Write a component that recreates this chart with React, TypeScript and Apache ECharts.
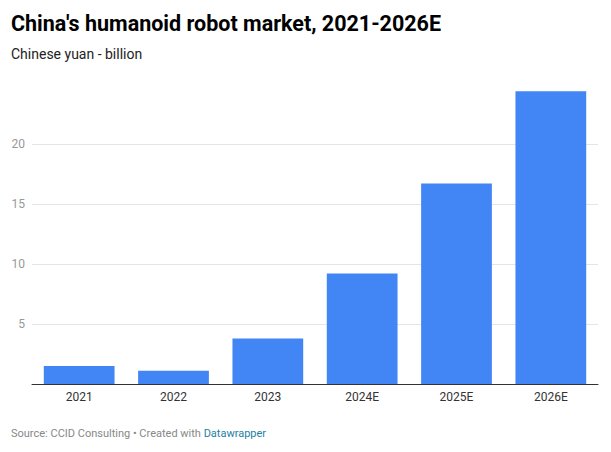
import * as echarts from "echarts"
import { useEffect, useRef } from "react"

// China's humanoid robot market, CNY billion (E = estimate)
const years = ["2021", "2022", "2023", "2024E", "2025E", "2026E"]
const marketSize = [1.5, 1.1, 3.8, 9.2, 16.7, 24.4]
const yTicks = [5, 10, 15, 20]

const FONT = "Roboto, 'Noto Sans', sans-serif"

export default function App() {
  const ref = useRef<HTMLDivElement>(null)

  useEffect(() => {
    if (!ref.current) return
    const chart = echarts.init(ref.current, undefined, { renderer: "svg" })

    chart.setOption({
      animation: false,
      textStyle: { fontFamily: FONT },
      title: [
        {
          text: "China's humanoid robot market, 2021-2026E",
          left: 11,
          top: 12,
          padding: 0,
          textStyle: { fontFamily: FONT, fontSize: 21.5, fontWeight: 700, color: "#000" },
        },
        {
          text: "Chinese yuan - billion",
          left: 11,
          top: 47,
          padding: 0,
          textStyle: { fontFamily: FONT, fontSize: 14, fontWeight: 400, color: "#222" },
        },
        {
          text: "{a|Source: CCID Consulting • Created with }{b|Datawrapper}",
          left: 11,
          top: 428,
          padding: 0,
          textStyle: {
            fontWeight: 400,
            rich: {
              a: { fontFamily: FONT, fontSize: 11, fontWeight: 400, color: "#888" },
              b: { fontFamily: FONT, fontSize: 11, fontWeight: 400, color: "#1d81a2" },
            },
          },
        },
      ],
      grid: { left: 32, right: 13, top: 84, bottom: 68, containLabel: false },
      xAxis: {
        type: "category",
        data: years,
        axisTick: { show: false },
        axisLine: { lineStyle: { color: "#333", width: 1 } },
        axisLabel: { color: "#333", fontSize: 12, fontFamily: FONT, margin: 7 },
      },
      yAxis: {
        type: "value",
        min: 0,
        max: 25,
        interval: 5,
        axisLine: { show: false },
        axisTick: { show: false },
        axisLabel: {
          color: "#999",
          fontSize: 12,
          fontFamily: FONT,
          margin: 7,
          formatter: (v: number) => (yTicks.includes(v) ? String(v) : ""),
        },
        splitLine: {
          lineStyle: {
            color: ["transparent", "#e5e5e5", "#e5e5e5", "#e5e5e5", "#e5e5e5", "transparent"],
          },
        },
      },
      series: [
        {
          type: "bar",
          data: marketSize,
          barWidth: "75%",
          itemStyle: { color: "#4285f4" },
        },
      ],
    })

    return () => chart.dispose()
  }, [])

  return <div ref={ref} style={{ width: 611, height: 452, position: "absolute", left: 0, top: 0 }} />
}
